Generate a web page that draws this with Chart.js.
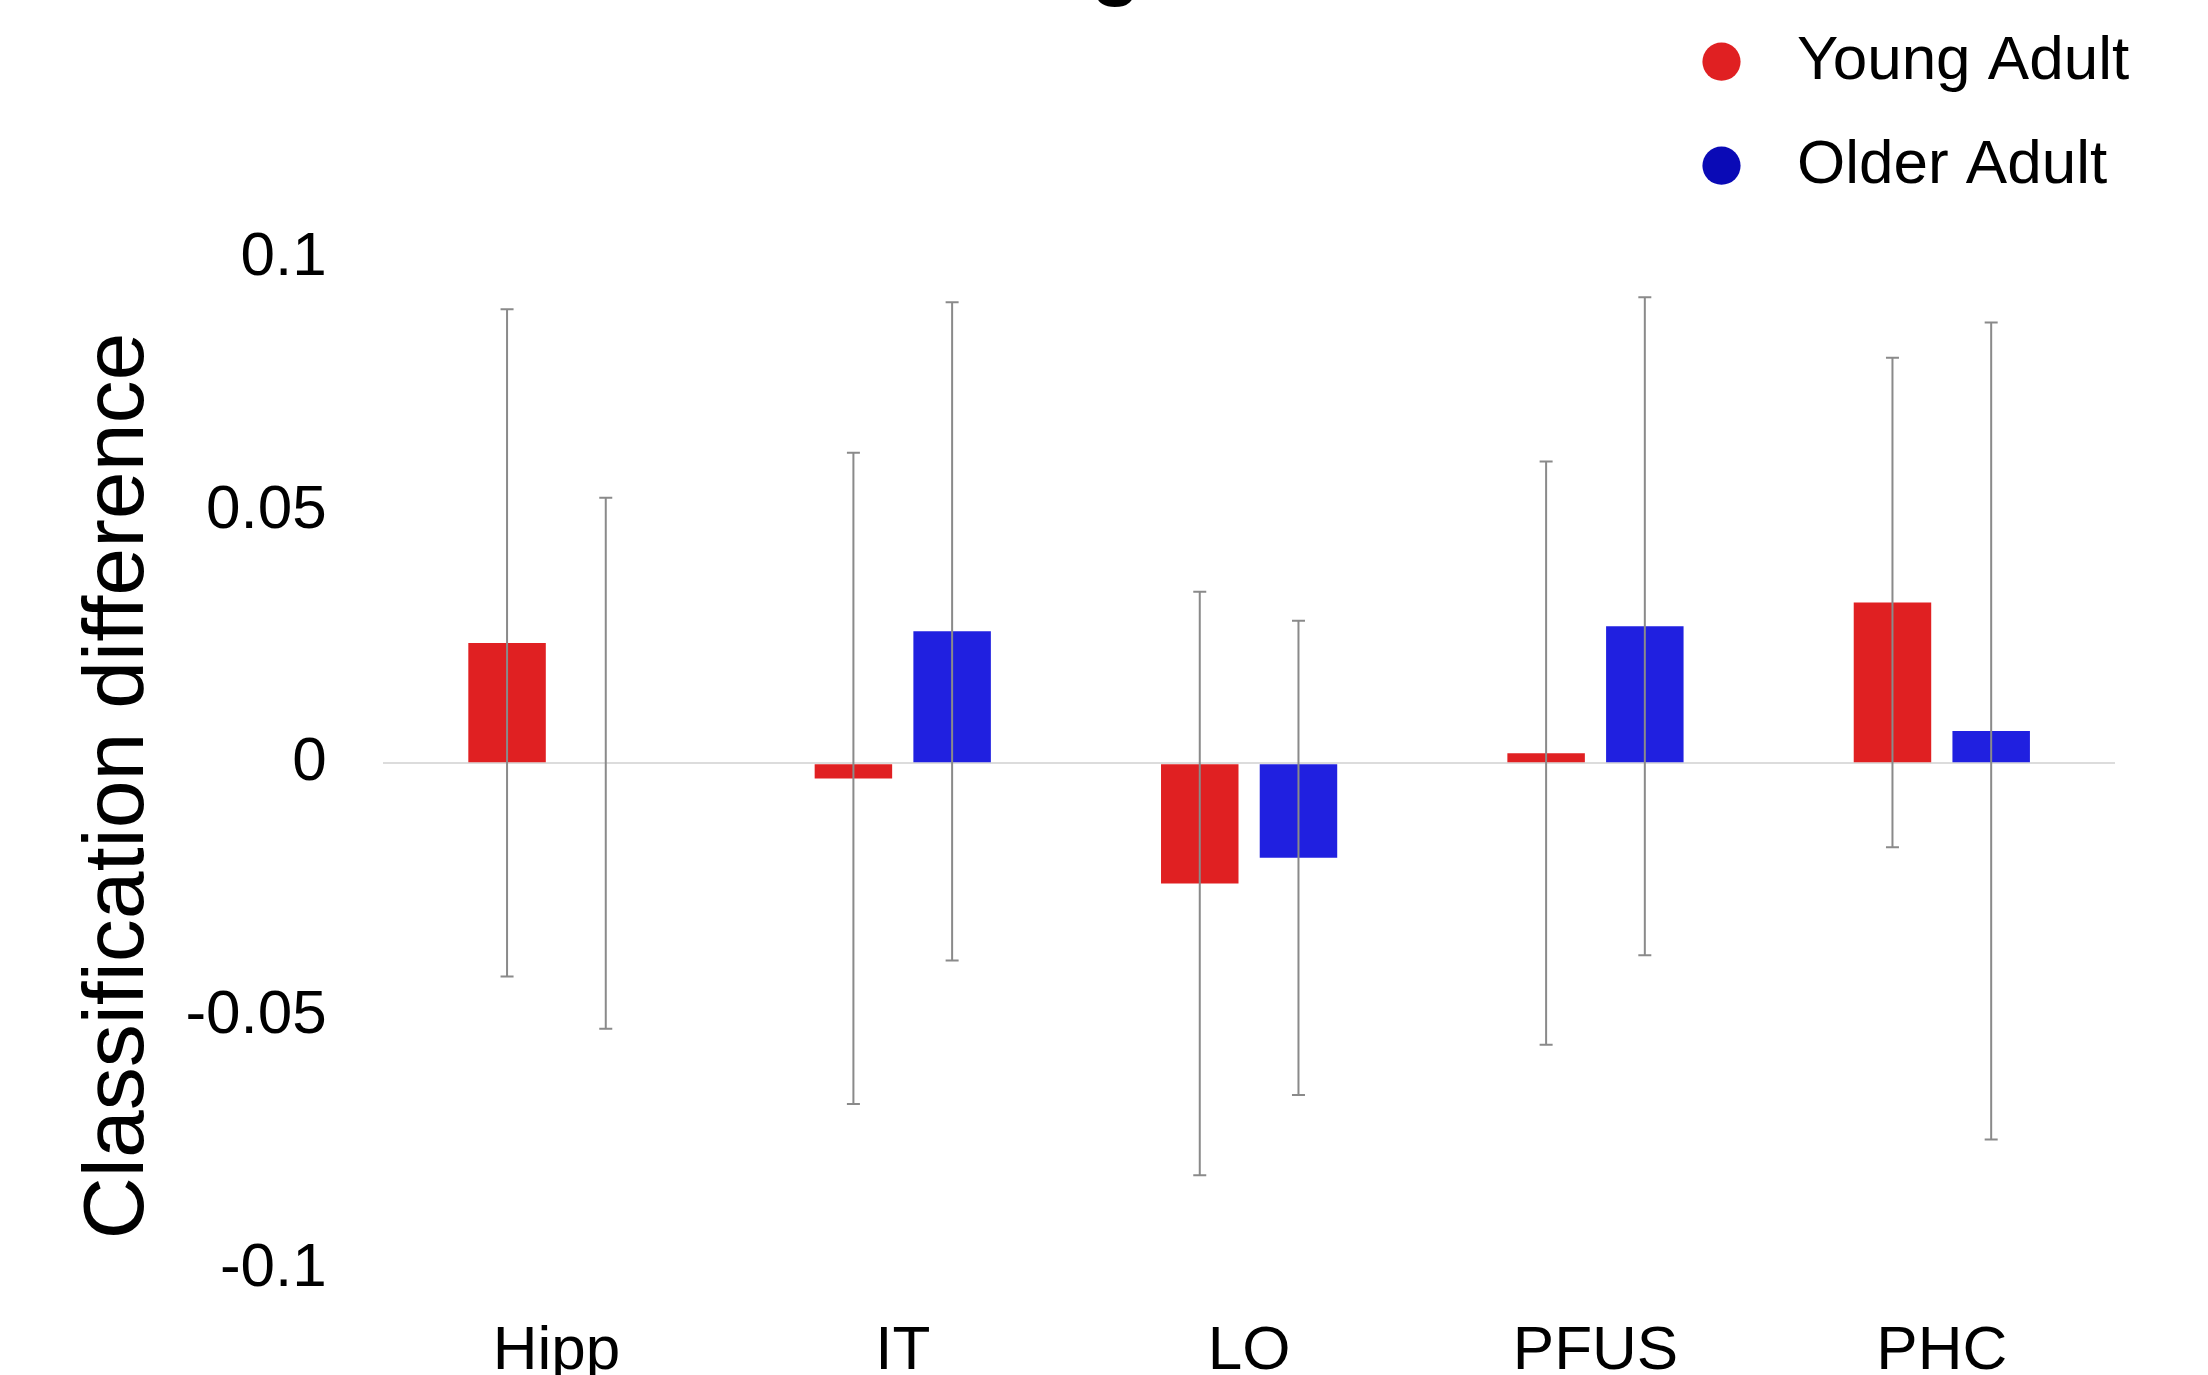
<!DOCTYPE html>
<html>
<head>
<meta charset="utf-8">
<script src="https://cdn.jsdelivr.net/npm/chart.js@4.4.1/dist/chart.umd.min.js"></script>
<style>
  html, body { margin: 0; padding: 0; background: #fff; overflow: hidden; }
  body { width: 2208px; height: 1375px; position: relative; }
  #wrap { position: absolute; left: 0; top: -80px; width: 2208px; height: 1488px; }
</style>
</head>
<body>
<div id="wrap"><canvas id="chart"></canvas></div>
<script>
// Regions of interest
const regions = ["Hipp", "IT", "LO", "PFUS", "PHC"];

// Group names
const groups = ["Young Adult", "Older Adult"];

// Mean classification difference per region
const youngValues = [0.0238, -0.003, -0.0238, 0.002, 0.0318];
const olderValues = [0, 0.0261, -0.0187, 0.0271, 0.0064];

// Error bar half lengths
const youngErrors = [0.066, 0.0644, 0.0577, 0.0577, 0.0484];
const olderErrors = [0.0525, 0.0651, 0.0469, 0.0651, 0.0808];

// Y axis range
const yMin = -0.109;
const yMax = 0.1;
const yStep = 0.05;

// Colors
const barColors = ["#e02022", "#2020e0"];
const legendColors = ["#e02022", "#0a0ab6"];

Chart.defaults.font.family = "'Liberation Sans', Arial, sans-serif";
Chart.defaults.color = "#000";

const errors = [youngErrors, olderErrors];

// Draw error bars over the bars
const errorBars = {
  id: "errorBars",
  afterDatasetsDraw(chart) {
    const ctx = chart.ctx;
    const y = chart.scales.y;
    ctx.save();
    ctx.strokeStyle = "#8a8a8a";
    ctx.lineWidth = 2;
    chart.data.datasets.forEach((ds, i) => {
      const meta = chart.getDatasetMeta(i);
      meta.data.forEach((bar, j) => {
        const top = y.getPixelForValue(ds.data[j] + errors[i][j]);
        const bottom = y.getPixelForValue(ds.data[j] - errors[i][j]);
        ctx.beginPath();
        ctx.moveTo(bar.x, top);
        ctx.lineTo(bar.x, bottom);
        ctx.moveTo(bar.x - 6.5, top);
        ctx.lineTo(bar.x + 6.5, top);
        ctx.moveTo(bar.x - 6.5, bottom);
        ctx.lineTo(bar.x + 6.5, bottom);
        ctx.stroke();
      });
    });
    ctx.restore();
  },
};

// Put the stacked legend at the top right, above the plot
const legendPlace = {
  id: "legendPlace",
  afterLayout(chart) {
    const lg = chart.legend;
    const area = chart.chartArea;
    lg.left = area.right - 449;
    lg.right = lg.left + lg.width;
    lg.top = area.top - 269;
    lg.bottom = lg.top + lg.height;
  },
};

let myChart = new Chart(document.getElementById("chart"), {
  type: "bar",
  plugins: [errorBars, legendPlace],
  data: {
    labels: regions,
    datasets: [
      { label: groups[0], data: youngValues, backgroundColor: barColors[0] },
      { label: groups[1], data: olderValues, backgroundColor: barColors[1] },
    ],
  },
  options: {
    responsive: true,
    maintainAspectRatio: false,
    animation: false,
    categoryPercentage: 0.57,
    barPercentage: 0.785,
    layout: { padding: { left: 0, right: 93, top: 0, bottom: 0 } },
    plugins: {
      tooltip: { enabled: false },
      title: {
        display: true,
        text: "Encoding Task",
        font: { size: 80, weight: "bold", lineHeight: 1.2 },
        padding: { top: 0, bottom: 241.7 },
      },
      legend: {
        position: "chartArea",
        align: "start",
        labels: {
          usePointStyle: true,
          pointStyle: "circle",
          boxWidth: 27,
          boxHeight: 27,
          padding: 42,
          font: { size: 62 },
          generateLabels: (chart) =>
            Chart.defaults.plugins.legend.labels.generateLabels(chart).map((item, i) => {
              item.text = "\u2002" + item.text;
              item.fillStyle = legendColors[i];
              item.strokeStyle = legendColors[i];
              item.lineWidth = 0;
              return item;
            }),
        },
      },
    },
    scales: {
      x: {
        grid: { display: false },
        border: { display: false },
        ticks: { font: { size: 62, lineHeight: 0.85 }, padding: 3 },
      },
      y: {
        min: yMin,
        max: yMax,
        border: { display: false },
        grid: {
          drawTicks: false,
          lineWidth: 2,
          color: (c) => (c.tick && Math.abs(c.tick.value) < 1e-9 ? "#dcdcdc" : "rgba(0,0,0,0)"),
        },
        ticks: {
          stepSize: yStep,
          precision: 2,
          includeBounds: false,
          padding: 56.5,
          font: { size: 62 },
          callback: (v) => String(+v.toFixed(2)),
        },
        title: {
          display: true,
          text: "Classification difference",
          font: { size: 86, lineHeight: 0.22 },
          padding: { top: 110, bottom: 0 },
        },
      },
    },
  },
});
</script>
</body>
</html>
